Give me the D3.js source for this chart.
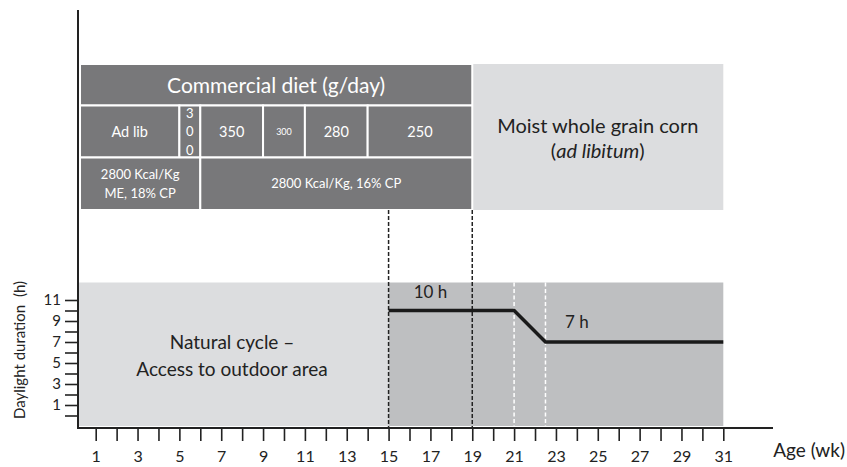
<!DOCTYPE html>
<html>
<head>
<meta charset="utf-8">
<script src="https://cdn.jsdelivr.net/npm/d3@7"></script>
<style>
  body { margin: 0; background: #fff; }
  svg { font-family: Lato, "Open Sans", sans-serif; }
</style>
</head>
<body>
<div id="chart"></div>
<script>
const w = 847;
const h = 467;

// axes
const weekTicks = d3.range(1, 32);
const weekLabels = weekTicks.filter(d => d % 2 === 1);
const hourTicks = d3.range(0, 12);
const hourLabels = [1, 3, 5, 7, 9, 11];

// diet panel
const dietStart = 0.25;
const dietEnd = 19;
const dietTitle = "Commercial diet (g/day)";
const rationLabels = ["Ad lib", "3\n0\n0", "350", "300", "280", "250"];
const rationFrom = [dietStart, 5, 6, 9, 11, 14];
const rationTo = [5, 6, 9, 11, 14, 19];
const feedLabels = [["2800 Kcal/Kg", "ME, 18% CP"], ["2800 Kcal/Kg, 16% CP"]];
const feedFrom = [dietStart, 6];
const feedTo = [6, 19];
const cornPeriod = [19, 31];
const cornLabel = ["Moist whole grain corn", "(ad libitum)"];

// light panel
const naturalPeriod = [0, 15];
const controlledPeriod = [15, 31];
const lightWeeks = [15, 21, 22.5, 31];
const lightHours = [10, 10, 7, 7];
const lightLabels = ["10 h", "7 h"];
const lightLabelWeek = [17, 24];
const lightLabelHour = [11.2, 8.3];
const dietBreaks = [15, 19];
const lightBreaks = [21, 22.5];

const svg = d3.select("#chart").append("svg")
    .attr("width", w)
    .attr("height", h);

const xScale = d3.scaleLinear()
    .domain([1, 31])
    .range([95.7, 723.3]);

const yScale = d3.scaleLinear()
    .domain([0, 11])
    .range([415.5, 300]);

const axisX = 78;
const axisY = 428;
const panelTop = 282.5;
const panelBottom = 426;

const dark = "#78787a";
const light = "#dcdddf";
const mid = "#bebfc1";
const ink = "#222";

// lower panel backgrounds
svg.append("rect")
    .attr("x", axisX)
    .attr("y", panelTop)
    .attr("width", xScale(naturalPeriod[1]) - axisX)
    .attr("height", panelBottom - panelTop)
    .attr("fill", light);

svg.append("rect")
    .attr("x", xScale(controlledPeriod[0]))
    .attr("y", panelTop)
    .attr("width", xScale(controlledPeriod[1]) - xScale(controlledPeriod[0]))
    .attr("height", panelBottom - panelTop)
    .attr("fill", mid);

svg.append("text")
    .attr("x", 232)
    .attr("text-anchor", "middle")
    .attr("font-size", 19)
    .attr("fill", ink)
    .selectAll("tspan")
    .data(["Natural cycle \u2013", "Access to outdoor area"])
    .join("tspan")
    .attr("x", 232)
    .attr("y", (d, i) => 349 + i * 27)
    .text(d => d);

// upper panel: diet blocks
const rows = [[64, 105.5], [105.5, 157.5], [157.5, 210]];

svg.append("rect")
    .attr("x", xScale(dietStart))
    .attr("y", rows[0][0])
    .attr("width", xScale(dietEnd) - xScale(dietStart))
    .attr("height", rows[0][1] - rows[0][0])
    .attr("fill", dark)
    .attr("stroke", "#fff")
    .attr("stroke-width", 2);

svg.append("text")
    .attr("x", (xScale(dietStart) + xScale(dietEnd)) / 2)
    .attr("y", 92.5)
    .attr("text-anchor", "middle")
    .attr("font-size", 21)
    .attr("fill", "#fff")
    .text(dietTitle);

rationLabels.forEach((lab, i) => {
    let x0 = xScale(rationFrom[i]);
    let x1 = xScale(rationTo[i]);
    svg.append("rect")
        .attr("x", x0).attr("y", rows[1][0])
        .attr("width", x1 - x0).attr("height", rows[1][1] - rows[1][0])
        .attr("fill", dark)
        .attr("stroke", "#fff")
        .attr("stroke-width", 2);
    let parts = lab.split("\n");
    let fs = parts.length > 1 ? 13 : (i === 3 ? 9 : 14.5);
    let step = 18.5;
    let y0 = (rows[1][0] + rows[1][1]) / 2 - (parts.length - 1) * step / 2 + fs * 0.35;
    svg.append("text")
        .attr("text-anchor", "middle")
        .attr("font-size", fs)
        .attr("fill", "#fff")
        .selectAll("tspan")
        .data(parts)
        .join("tspan")
        .attr("x", (x0 + x1) / 2)
        .attr("y", (d, k) => y0 + k * step)
        .text(d => d);
});

feedLabels.forEach((lines, i) => {
    let x0 = xScale(feedFrom[i]);
    let x1 = xScale(feedTo[i]);
    svg.append("rect")
        .attr("x", x0).attr("y", rows[2][0])
        .attr("width", x1 - x0).attr("height", rows[2][1] - rows[2][0])
        .attr("fill", dark)
        .attr("stroke", "#fff")
        .attr("stroke-width", 2);
    let step = 18.5;
    let y0 = (rows[2][0] + rows[2][1]) / 2 - (lines.length - 1) * step / 2 + 4.5;
    svg.append("text")
        .attr("text-anchor", "middle")
        .attr("font-size", 13)
        .attr("fill", "#fff")
        .selectAll("tspan")
        .data(lines)
        .join("tspan")
        .attr("x", (x0 + x1) / 2)
        .attr("y", (d, k) => y0 + k * step)
        .text(d => d);
});

svg.append("rect")
    .attr("x", xScale(cornPeriod[0]) + 1)
    .attr("y", rows[0][0])
    .attr("width", xScale(cornPeriod[1]) - xScale(cornPeriod[0]) - 1)
    .attr("height", rows[2][1] - rows[0][0])
    .attr("fill", light);

let cornX = (xScale(cornPeriod[0]) + xScale(cornPeriod[1])) / 2;
let cornText = svg.append("text")
    .attr("text-anchor", "middle")
    .attr("font-size", 20)
    .attr("fill", ink);
cornText.append("tspan")
    .attr("x", cornX).attr("y", 133)
    .text(cornLabel[0]);
let second = cornText.append("tspan")
    .attr("x", cornX).attr("y", 158);
second.append("tspan").text("(");
second.append("tspan").attr("font-style", "italic").text(cornLabel[1].slice(1, -1));
second.append("tspan").text(")");

// dashed guides
svg.selectAll(".diet-break")
    .data(dietBreaks)
    .join("line")
    .attr("x1", d => xScale(d)).attr("x2", d => xScale(d))
    .attr("y1", rows[2][1]).attr("y2", axisY)
    .attr("stroke", ink)
    .attr("stroke-width", 1.5)
    .attr("stroke-dasharray", "4,2");

svg.selectAll(".light-break")
    .data(lightBreaks)
    .join("line")
    .attr("x1", d => xScale(d)).attr("x2", d => xScale(d))
    .attr("y1", panelTop).attr("y2", axisY)
    .attr("stroke", "#fff")
    .attr("stroke-width", 1.5)
    .attr("stroke-dasharray", "4,2.5");

// daylight line
let lineData = lightWeeks.map((d, i) => [xScale(d), yScale(lightHours[i])]);
svg.append("path")
    .attr("d", d3.line()(lineData))
    .attr("fill", "none")
    .attr("stroke", "#1a1a1a")
    .attr("stroke-width", 3.5);

svg.selectAll(".light-label")
    .data(lightLabels)
    .join("text")
    .attr("x", (d, i) => xScale(lightLabelWeek[i]))
    .attr("y", (d, i) => yScale(lightLabelHour[i]))
    .attr("text-anchor", "middle")
    .attr("font-size", 17)
    .attr("fill", ink)
    .text(d => d);

// x axis
let xAxis = svg.append("g")
    .attr("transform", "translate(0," + axisY + ")")
    .call(d3.axisBottom(xScale)
        .tickValues(weekTicks)
        .tickSize(13)
        .tickFormat(d => weekLabels.includes(d) ? d : ""));
xAxis.select(".domain").remove();
xAxis.selectAll(".tick line").attr("stroke", ink).attr("stroke-width", 1.6);
xAxis.selectAll(".tick text")
    .attr("font-family", "Lato, sans-serif")
    .attr("font-size", 16)
    .attr("fill", ink)
    .attr("dy", "1.1em");
svg.append("line")
    .attr("x1", axisX - 1).attr("x2", 773)
    .attr("y1", axisY).attr("y2", axisY)
    .attr("stroke", ink)
    .attr("stroke-width", 2);

// y axis
let yAxis = svg.append("g")
    .attr("transform", "translate(" + axisX + ",0)")
    .call(d3.axisLeft(yScale)
        .tickValues(hourTicks)
        .tickSize(13)
        .tickFormat(d => hourLabels.includes(d) ? d : ""));
yAxis.select(".domain").remove();
yAxis.selectAll(".tick line").attr("stroke", ink).attr("stroke-width", 1.6);
yAxis.selectAll(".tick text")
    .attr("font-family", "Lato, sans-serif")
    .attr("font-size", 15)
    .attr("fill", ink)
    .attr("x", -17);
svg.append("line")
    .attr("x1", axisX).attr("x2", axisX)
    .attr("y1", 10).attr("y2", axisY + 1)
    .attr("stroke", ink)
    .attr("stroke-width", 2);

svg.append("text")
    .attr("x", 845)
    .attr("y", 457)
    .attr("text-anchor", "end")
    .attr("font-size", 19)
    .attr("fill", ink)
    .text("Age (wk)");

svg.append("text")
    .attr("transform", "translate(25,350) rotate(-90)")
    .attr("text-anchor", "middle")
    .attr("font-size", 15)
    .attr("fill", ink)
    .attr("xml:space", "preserve")
    .text("Daylight duration  (h)");
</script>
</body>
</html>
